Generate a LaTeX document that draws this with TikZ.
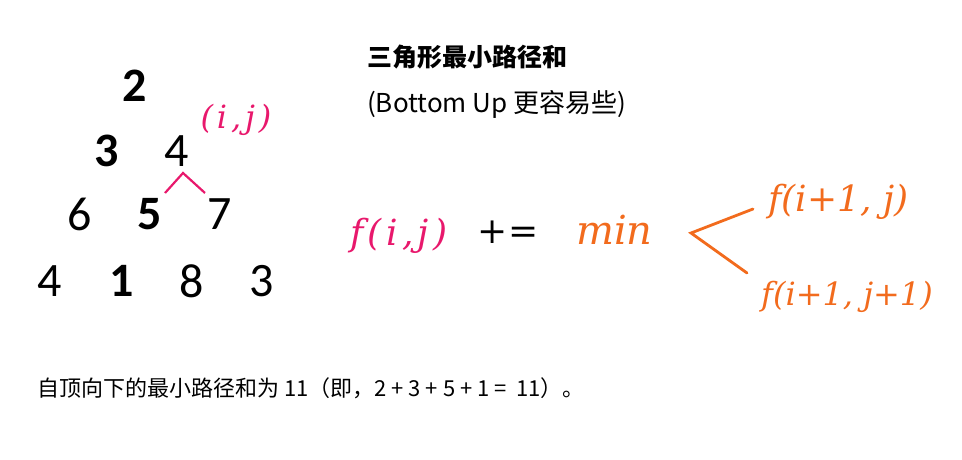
\documentclass[tikz,border=0pt]{standalone}
\usepackage{fontspec}
\setmainfont{Carlito}
\newfontfamily\cjk{Noto Sans CJK SC}
\newfontfamily\hand{DejaVu Serif}
\newfontfamily\handw[LetterSpace=12]{DejaVu Serif}
\definecolor{pinkc}{HTML}{E8186C}
\definecolor{orangec}{HTML}{F26B1D}
\begin{document}
\begin{tikzpicture}[x=1pt,y=-1pt,
  num/.style={font=\fontsize{48}{48}\selectfont, inner sep=0pt},
  bnum/.style={num, font=\fontsize{48}{48}\selectfont\bfseries},
  pinkhand/.style={text=pinkc, font=\fontsize{36}{36}\selectfont\handw\itshape, inner sep=0pt},
  orhand/.style={text=orangec, font=\fontsize{34}{34}\selectfont\hand\itshape, inner sep=0pt},
  pinkline/.style={draw=pinkc, line width=2.2pt},
  orline/.style={draw=orangec, line width=2.8pt, line cap=round, line join=miter}]
\useasboundingbox (0,0) rectangle (962,459);
% triangle
\node[bnum] (r1a) at (135,86) {2};
\node[bnum] (r2a) at (107,151) {3};
\node[num] (r2b) at (177,151) {4};
\node[num] (r3a) at (80,214) {6};
\node[bnum] (r3b) at (150,214) {5};
\node[num] (r3c) at (220,214) {7};
\node[num] (r4a) at (50,281) {4};
\node[bnum] (r4b) at (122,281) {1};
\node[num] (r4c) at (192,281) {8};
\node[num] (r4d) at (262,281) {3};
\coordinate (pl) at (165,193);
\coordinate (pt) at (183,173);
\coordinate (pr) at (205,193);
\draw[pinkline] (pl) -- (pt) -- (pr);
\node[pinkhand, font=\fontsize{32}{32}\selectfont\handw\itshape] (ij) at (236,120) {(i,j)};
% titles
\node[anchor=west, inner sep=0pt, font=\cjk\bfseries\fontsize{25}{25}\selectfont] (title) at (367,57) {三角形最小路径和};
\node[anchor=west, inner sep=0pt, font=\cjk\fontsize{26}{26}\selectfont] (sub) at (367,104) {(Bottom Up 更容易些)};
% formula
\node[pinkhand, anchor=west] (fij) at (350,236) {f(i,j)};
\node[inner sep=0pt, font=\fontsize{36}{36}\selectfont\hand] (pe) at (508,232) {+=};
\node[orhand, anchor=west, font=\fontsize{40}{40}\selectfont\hand\itshape] (mn) at (576,230) {min};
\coordinate (b1) at (753,209);
\coordinate (b0) at (691,233);
\coordinate (b2) at (747,273);
\draw[orline] (b1) -- (b0) -- (b2);
\node[orhand, anchor=west, font=\fontsize{36}{36}\selectfont\hand\itshape] (f1) at (768,202) {f(i+1, j)};
\node[orhand, anchor=west, font=\fontsize{32}{32}\selectfont\hand\itshape] (f2) at (761,297) {f(i+1, j+1)};
% bottom
\node[anchor=west, inner sep=0pt, font=\cjk\fontsize{22}{22}\selectfont] (bot) at (37,388) {自顶向下的最小路径和为 11（即，2 + 3 + 5 + 1 =\ \ 11）。};
\end{tikzpicture}
\end{document}
